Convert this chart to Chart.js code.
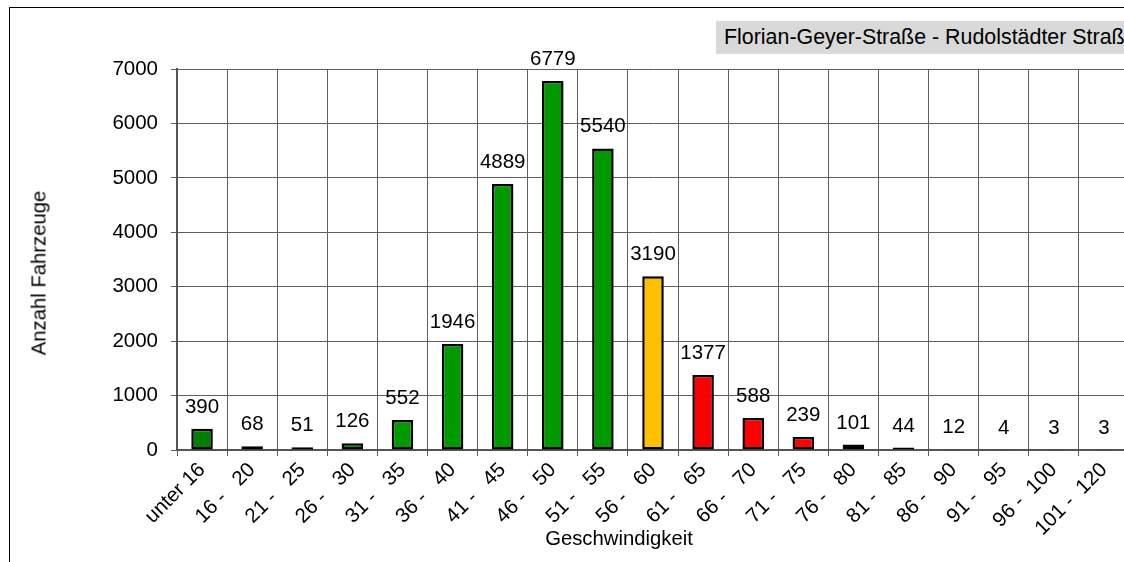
<!DOCTYPE html>
<html>
<head>
<meta charset="utf-8">
<script src="https://cdn.jsdelivr.net/npm/chart.js@4"></script>
<style>
  html, body { margin: 0; padding: 0; background: #fff; width: 1124px; height: 562px; overflow: hidden; }
  body { position: relative; font-family: "Liberation Sans", Arial, sans-serif; }
  .frame { position: absolute; left: 9px; top: 7px; width: 1200px; height: 600px; border: 1px solid #000; }
  .chart-box { position: absolute; left: 0; top: 0; width: 1135px; height: 562px; }
  .header { position: absolute; left: 716px; top: 21px; width: 460px; height: 33px; background: #d9d9d9;
            font-size: 21.4px; line-height: 33px; padding-left: 8px; white-space: nowrap; color: #000; }
  .axis-title { position: absolute; font-size: 20.3px; color: #000; white-space: nowrap; transform: translate(-50%, -50%); }
  .y-title { transform: translate(-50%, -50%) rotate(-90deg); }
</style>
</head>
<body>
<div class="frame"></div>
<div class="chart-box"><canvas id="speed-chart"></canvas></div>
<div class="header">Florian-Geyer-Straße - Rudolstädter Straße</div>
<div class="axis-title y-title" style="left:39px; top:273px;">Anzahl Fahrzeuge</div>
<div class="axis-title" style="left:619px; top:538px;">Geschwindigkeit</div>

<script>
// speed classes (km/h) and vehicle counts
const speedClasses = ['unter 16', '16 -   20', '21 -   25', '26 -   30', '31 -   35', '36 -   40',
    '41 -   45', '46 -   50', '51 -   55', '56 -   60', '61 -   65', '66 -   70', '71 -   75',
    '76 -   80', '81 -   85', '86 -   90', '91 -   95', '96 -  100', '101 -  120'];
const vehicleCounts = [390, 68, 51, 126, 552, 1946, 4889, 6779, 5540, 3190, 1377, 588, 239, 101, 44, 12, 4, 3, 3];
const barColors = ['#007f00', '#009900', '#009900', '#009900', '#009900', '#009900', '#009900', '#009900',
    '#009900', '#ffc000', '#ff0000', '#ff0000', '#ff0000', '#ff0000', '#ff0000', '#ff0000', '#ff0000',
    '#ff0000', '#ff0000'];
const yTicks = [0, 1000, 2000, 3000, 4000, 5000, 6000, 7000];

const FONT = { family: '"Liberation Sans", Arial, sans-serif', size: 20.5 };

// value labels above each bar
const valueLabels = {
    id: 'valueLabels',
    afterDatasetsDraw(chart) {
        const ctx = chart.ctx;
        const meta = chart.getDatasetMeta(0);
        ctx.save();
        ctx.font = `${FONT.size}px ${FONT.family}`;
        ctx.fillStyle = '#000';
        ctx.textAlign = 'center';
        ctx.textBaseline = 'alphabetic';
        meta.data.forEach((bar, i) => {
            ctx.fillText(String(vehicleCounts[i]), bar.x, bar.y - 16);
        });
        ctx.restore();
    }
};

new Chart(document.getElementById('speed-chart'), {
    type: 'bar',
    data: {
        labels: speedClasses,
        datasets: [{
            data: vehicleCounts,
            backgroundColor: barColors,
            borderColor: '#000',
            borderWidth: 2.5,
            borderSkipped: false,
            barPercentage: 0.43,
            categoryPercentage: 1
        }]
    },
    options: {
        responsive: true,
        maintainAspectRatio: false,
        animation: false,
        layout: { padding: { left: 0, top: 69, right: 6, bottom: 0 } },
        plugins: {
            legend: { display: false },
            tooltip: { enabled: false }
        },
        scales: {
            x: {
                grid: { color: '#5e5e5e', lineWidth: 1, tickLength: 6, offset: true },
                border: { color: '#555', width: 2 },
                ticks: {
                    color: '#000', font: FONT, autoSkip: false,
                    minRotation: 45, maxRotation: 45, padding: 2
                },
                afterFit(scale) { scale.height = 112; }
            },
            y: {
                min: 0,
                max: 7000,
                afterBuildTicks(scale) { scale.ticks = yTicks.map(v => ({ value: v })); },
                grid: { color: '#5e5e5e', lineWidth: 1, tickLength: 6 },
                border: { color: '#555', width: 2 },
                ticks: { color: '#000', font: FONT, padding: 13, callback: v => String(v) },
                afterFit(scale) { scale.width = 177; }
            }
        }
    },
    plugins: [valueLabels]
});
</script>
</body>
</html>
